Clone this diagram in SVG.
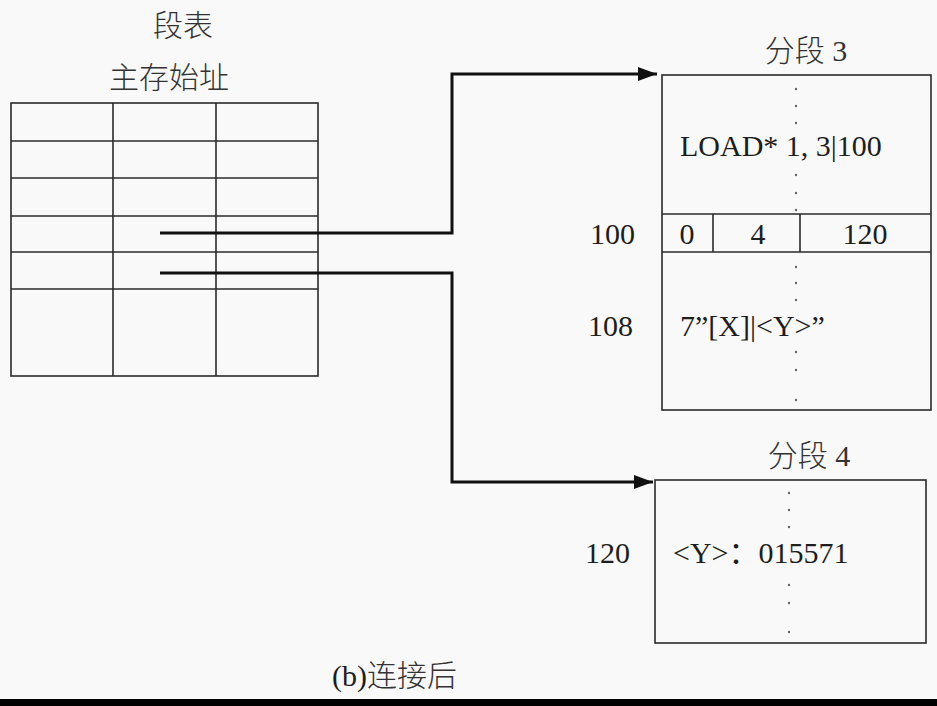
<svg xmlns="http://www.w3.org/2000/svg" width="937" height="706" viewBox="0 0 937 706">
<style>
  .t { font-family: "Liberation Serif", "Noto Sans CJK SC", serif; font-size: 30px; fill: #1e1e1e; }
  .cjk { fill: #333; font-weight: 300; }
  .c { text-anchor: middle; }
  .box { fill: none; stroke: #2a2a2a; stroke-width: 1.6; }
  .ln { stroke: #2a2a2a; stroke-width: 1.6; }
  .conn { fill: none; stroke: #111; stroke-width: 3; }
  .dot { fill: #666; }
</style>
<defs>
  <marker id="ah" markerUnits="userSpaceOnUse" markerWidth="20" markerHeight="14" refX="19" refY="7" orient="auto">
    <path d="M0,0 L19,7 L0,14 z" fill="#111"/>
  </marker>
</defs>
<rect x="0" y="0" width="937" height="706" fill="#f9f9f9"/>

<g id="segment-table">
  <text class="t cjk c" x="183" y="36">段表</text>
  <text class="t cjk c" x="169" y="88">主存始址</text>
  <rect class="box" x="11" y="103" width="307" height="273"/>
  <line class="ln" x1="113" y1="103" x2="113" y2="376"/>
  <line class="ln" x1="216" y1="103" x2="216" y2="376"/>
  <line class="ln" x1="11" y1="141" x2="318" y2="141"/>
  <line class="ln" x1="11" y1="178" x2="318" y2="178"/>
  <line class="ln" x1="11" y1="216" x2="318" y2="216"/>
  <line class="ln" x1="11" y1="252" x2="318" y2="252"/>
  <line class="ln" x1="11" y1="289" x2="318" y2="289"/>
</g>

<g id="segment3">
  <text class="t cjk c" x="806" y="61">分段 3</text>
  <rect class="box" x="662" y="75" width="269" height="335"/>
  <line class="ln" x1="662" y1="214" x2="931" y2="214"/>
  <line class="ln" x1="662" y1="252" x2="931" y2="252"/>
  <line class="ln" x1="713" y1="214" x2="713" y2="252"/>
  <line class="ln" x1="800" y1="214" x2="800" y2="252"/>
  <g class="dot">
    <circle cx="796" cy="89" r="1.2"/><circle cx="796" cy="106" r="1.2"/><circle cx="796" cy="123" r="1.2"/>
    <circle cx="796" cy="175" r="1.2"/><circle cx="796" cy="193" r="1.2"/><circle cx="796" cy="210" r="1.2"/>
    <circle cx="796" cy="267" r="1.2"/><circle cx="796" cy="283" r="1.2"/><circle cx="796" cy="300" r="1.2"/>
    <circle cx="796" cy="352" r="1.2"/><circle cx="796" cy="370" r="1.2"/><circle cx="796" cy="400" r="1.2"/>
  </g>
  <text class="t" x="680" y="156">LOAD* 1, 3|100</text>
  <text class="t" x="590" y="244">100</text>
  <text class="t c" x="687" y="244">0</text>
  <text class="t c" x="758" y="244">4</text>
  <text class="t c" x="865" y="244">120</text>
  <text class="t" x="588" y="336">108</text>
  <text class="t" x="680" y="336">7”[X]|&lt;Y&gt;”</text>
</g>

<g id="segment4">
  <text class="t cjk c" x="809" y="466">分段 4</text>
  <rect class="box" x="655" y="480" width="271" height="163"/>
  <g class="dot">
    <circle cx="789" cy="493" r="1.2"/><circle cx="789" cy="510" r="1.2"/><circle cx="789" cy="527" r="1.2"/>
    <circle cx="789" cy="585" r="1.2"/><circle cx="789" cy="603" r="1.2"/><circle cx="789" cy="632" r="1.2"/>
  </g>
  <text class="t" x="585" y="563">120</text>
  <text class="t" x="673" y="563">&lt;Y&gt;：015571</text>
</g>

<g id="connectors">
  <path class="conn" d="M160,233 H452 V74 H657" marker-end="url(#ah)"/>
  <path class="conn" d="M160,273 H452 V482 H653" marker-end="url(#ah)"/>
</g>

<text class="t" x="332" y="686">(b)<tspan class="cjk">连接后</tspan></text>
<rect x="0" y="699" width="937" height="7" fill="#000"/>
</svg>
